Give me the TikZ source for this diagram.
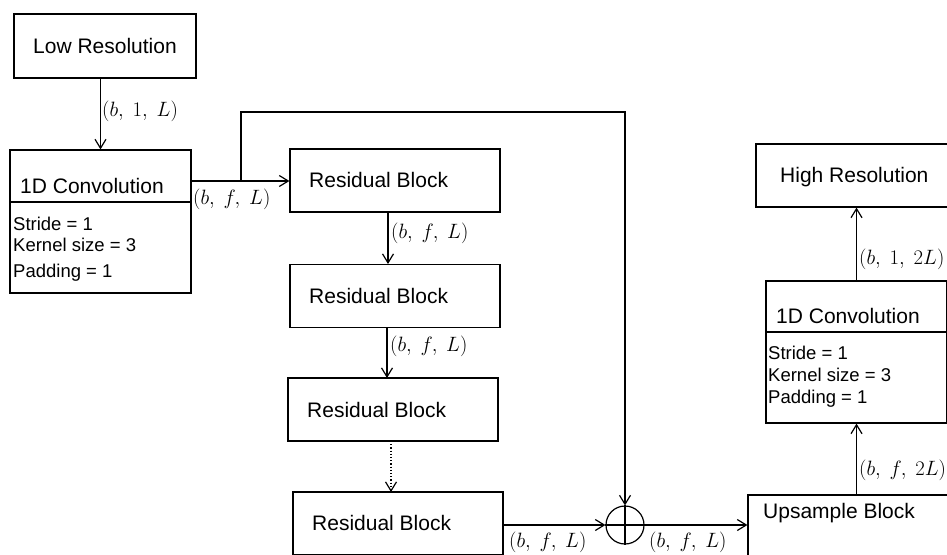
\documentclass[tikz,border=0pt]{standalone}
\usepackage{fontspec}
\setmainfont{Liberation Sans}
\usetikzlibrary{arrows.meta}

\tikzset{
  box/.style={draw, line width=1.2pt, inner sep=0pt},
  block/.style={box, minimum width=210, minimum height=63},
  title/.style={anchor=base west, inner sep=0pt, font=\fontsize{21}{25}\selectfont},
  param/.style={anchor=base west, inner sep=0pt, font=\fontsize{18.5}{22}\selectfont},
  dim/.style={anchor=west, inner sep=0pt, font=\fontsize{19.5}{23}\selectfont},
  flow/.style={line width=1.2pt, -{Straight Barb[length=9pt,width=11pt,line width=1.2pt]}},
}

\begin{document}
\begin{tikzpicture}[x=1pt, y=-1pt]
  \useasboundingbox (0,0) rectangle (947,554);
  \clip (0,0) rectangle (947,554);

  % input side
  \node[box, minimum width=182, minimum height=64] (lowres) at (105,46) {\fontsize{21}{25}\selectfont Low Resolution};
  \node[box, minimum width=181, minimum height=143] (convA) at (100.5,221.5) {};
  \draw[line width=1.2pt] (convA.west |- 0,202) -- (convA.east |- 0,202);
  \node[title] (convAname) at (20,193) {1D Convolution};
  \node[param] (convAs) at (13,230) {Stride = 1};
  \node[param] (convAk) at (13,251) {Kernel size = 3};
  \node[param] (convAp) at (13,277) {Padding = 1};

  % residual blocks
  \node[block] (resA) at (395,180.5) {};
  \node[title] (resAname) at (309,187) {Residual Block};
  \node[block] (resB) at (395,296) {};
  \node[title] (resBname) at (309,303) {Residual Block};
  \node[block] (resC) at (393,409.5) {};
  \node[title] (resCname) at (307,417) {Residual Block};
  \node[block] (resD) at (398,523.5) {};
  \node[title] (resDname) at (312,530) {Residual Block};

  \node[draw, circle, line width=1.2pt, minimum size=38, inner sep=0pt] (sum) at (625,525) {};
  \draw[line width=1.2pt] (sum.north) -- (sum.south) (sum.west) -- (sum.east);

  % output side
  \node[block] (ups) at (853,526.5) {};
  \node[title] (upsname) at (763,518) {Upsample Block};
  \node[box, minimum width=181, minimum height=142] (convB) at (856.5,352) {};
  \draw[line width=1.2pt] (convB.west |- 0,332) -- (convB.east |- 0,332);
  \node[title] (convBname) at (776,323) {1D Convolution};
  \node[param] (convBs) at (768,359) {Stride = 1};
  \node[param] (convBk) at (768,381) {Kernel size = 3};
  \node[param] (convBp) at (768,403) {Padding = 1};
  \node[box, minimum width=200, minimum height=63] (highres) at (856,175.5) {};
  \node[title] (highresname) at (780,182) {High Resolution};

  % connectors
  \coordinate (skip) at (241,181);
  \draw[flow] (convA.north |- lowres.south) -- (convA.north);
  \draw[flow] (convA.east |- skip) -- (resA.west |- skip);
  \draw[flow] (skip) -- (241,112) -| (sum.north);
  \draw[flow] (388,212) -- (388,264);
  \draw[flow] (387,328) -- (387,378);
  \draw[flow, dotted] (391,441) -- (391,492);
  \draw[flow] (resD.east |- sum.west) -- (sum.west);
  \draw[flow] (sum.east) -- (ups.west |- sum.east);
  \draw[flow] (convB.south |- ups.north) -- (convB.south);
  \draw[flow] (convB.north) -- (convB.north |- highres.south);

  % shapes
  \node[dim] (dimA) at (102,111) {$(b,\ 1,\ L)$};
  \node[dim] (dimB) at (193,199) {$(b,\ f,\ L)$};
  \node[dim] (dimC) at (391,233) {$(b,\ f,\ L)$};
  \node[dim] (dimD) at (390,346) {$(b,\ f,\ L)$};
  \node[dim] (dimE) at (509,542) {$(b,\ f,\ L)$};
  \node[dim] (dimF) at (649,542) {$(b,\ f,\ L)$};
  \node[dim] (dimG) at (859,470) {$(b,\ f,\ 2L)$};
  \node[dim] (dimH) at (859,259) {$(b,\ 1,\ 2L)$};
\end{tikzpicture}
\end{document}
